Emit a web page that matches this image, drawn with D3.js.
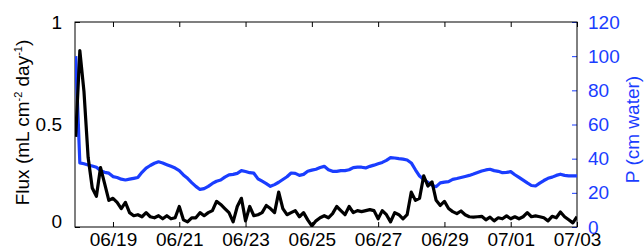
<!DOCTYPE html>
<html>
<head>
<meta charset="utf-8">
<title>Flux and P</title>
<script src="https://cdn.jsdelivr.net/npm/d3@7"></script>
<style>
  body { margin: 0; background: #fff; }
  text { font-family: "Liberation Sans", Arial, sans-serif; }
</style>
</head>
<body>
<div id="chart"></div>
<script>
  // samples every 3 hours from the first reading
  const startTime = "2013-06-17T21:00";
  const stepHours = 3;
  const domainStart = "2013-06-17T20:30";
  const domainEnd = "2013-07-03T00:00";

  const flux = [0.44, 0.86, 0.66, 0.34, 0.19, 0.15, 0.29, 0.21, 0.13, 0.14,
    0.12, 0.09, 0.12, 0.07, 0.055, 0.06, 0.05, 0.07, 0.05, 0.045,
    0.055, 0.04, 0.055, 0.04, 0.045, 0.10, 0.035, 0.025, 0.045, 0.045,
    0.07, 0.055, 0.07, 0.08, 0.125, 0.11, 0.09, 0.07, 0.025, 0.10,
    0.14, 0.03, 0.10, 0.055, 0.06, 0.07, 0.105, 0.09, 0.07, 0.17,
    0.09, 0.06, 0.07, 0.08, 0.05, 0.07, 0.035, 0.005, 0.03, 0.045,
    0.055, 0.045, 0.065, 0.10, 0.08, 0.06, 0.10, 0.07, 0.08, 0.075,
    0.08, 0.085, 0.08, 0.04, 0.08, 0.06, 0.025, 0.07, 0.06, 0.04,
    0.06, 0.17, 0.13, 0.14, 0.25, 0.20, 0.22, 0.13, 0.105, 0.125,
    0.09, 0.075, 0.065, 0.078, 0.06, 0.05, 0.048, 0.05, 0.052, 0.035,
    0.048, 0.03, 0.045, 0.04, 0.054, 0.04, 0.05, 0.04, 0.05, 0.07,
    0.05, 0.054, 0.05, 0.045, 0.03, 0.052, 0.045, 0.073, 0.05, 0.035,
    0.02, 0.05];

  const pressure = [100, 37.5, 37, 36.3, 35.7, 35, 33, 32, 31.5, 29.5,
    29, 28, 27.5, 28, 28.5, 29, 32, 34.5, 36, 37.3,
    38.2, 37.5, 36.5, 35.5, 34.5, 33, 30.5, 28.5, 26, 23.8,
    22, 22.5, 23.8, 25.5, 26.8, 27.5, 29.2, 30.5, 30.8, 31.4,
    33, 32.5, 31.8, 31.5, 28.2, 26.8, 25.4, 23.8, 24.8, 26.2,
    27.8, 29.4, 31.6, 31.4, 30.2, 30.8, 32.6, 33.3, 33.8, 34.8,
    35.5, 33.5, 32.6, 32.6, 33, 33, 33.5, 34.8, 35, 35,
    34.6, 35.5, 36.2, 37, 37.8, 39, 40.6, 40.4, 40, 39.7,
    39.2, 37.5, 33.5, 29.8, 27.8, 26.2, 24.4, 23.6, 25.8, 26.3,
    26.6, 27.9, 28.4, 29, 29.6, 30.2, 31, 31.9, 32.8, 33.4,
    33.8, 33, 32.6, 31.8, 32, 32.4, 30.6, 29, 27.4, 25.8,
    24.3, 24, 25.7, 27.2, 28.5, 29.2, 30.2, 30.9, 30.2, 29.9,
    29.9, 29.9];

  const dateTicks = ["2013-06-19", "2013-06-21", "2013-06-23", "2013-06-25",
    "2013-06-27", "2013-06-29", "2013-07-01", "2013-07-03"];
  const fluxTicks = [0, 0.5, 1];
  const pTicks = [0, 20, 40, 60, 80, 100, 120];

  const blue = "#1a3dff";
  const width = 644, height = 252;
  const margin = { top: 22, right: 67, bottom: 25, left: 75 };
  const w = width - margin.left - margin.right;
  const h = height - margin.top - margin.bottom;

  const parse = d3.isoParse;
  const t0 = parse(startTime);
  const times = flux.map((d, i) => d3.timeHour.offset(t0, i * stepHours));

  const svg = d3.select("#chart").append("svg")
    .attr("width", width)
    .attr("height", height);

  const g = svg.append("g")
    .attr("transform", `translate(${margin.left},${margin.top})`);

  const x = d3.scaleTime()
    .domain([parse(domainStart), parse(domainEnd)])
    .range([0, w]);
  const yFlux = d3.scaleLinear().domain([0, 1]).range([h, 0]);
  const yP = d3.scaleLinear().domain([0, 120]).range([h, 0]);

  g.append("clipPath").attr("id", "clip")
    .append("rect").attr("width", w).attr("height", h);

  const fmt = d3.timeFormat("%m/%d");
  const tickDates = dateTicks.map(parse);

  // bottom axis, ticks pointing inward
  const xBottom = g.append("g")
    .attr("transform", `translate(0,${h})`)
    .call(d3.axisBottom(x).tickValues(tickDates).tickFormat(fmt).tickSizeInner(-5).tickSizeOuter(0).tickPadding(6));
  // top axis, ticks only
  const xTop = g.append("g")
    .call(d3.axisTop(x).tickValues(tickDates).tickFormat("").tickSizeInner(-5).tickSizeOuter(0));

  const yLeft = g.append("g")
    .call(d3.axisLeft(yFlux).tickValues(fluxTicks).tickFormat(d3.format("")).tickSizeInner(-5).tickSizeOuter(0).tickPadding(13));

  const yRight = g.append("g")
    .attr("transform", `translate(${w},0)`)
    .call(d3.axisRight(yP).tickValues(pTicks).tickSizeInner(-5).tickSizeOuter(0).tickPadding(11));

  [xBottom, xTop, yLeft, yRight].forEach(a => {
    a.select(".domain").remove();
    a.selectAll("text").attr("font-size", 19).attr("font-family", "Liberation Sans, Arial, sans-serif");
  });
  xBottom.selectAll("text").attr("fill", "#000");
  yLeft.selectAll("text").attr("fill", "#000");
  yLeft.selectAll(".tick").filter(d => d === 0).select("text").attr("dy", "0.0em");
  yRight.selectAll("text").attr("fill", blue);
  yRight.selectAll("line").attr("stroke", blue);

  // frame
  g.append("rect")
    .attr("width", w).attr("height", h)
    .attr("fill", "none").attr("stroke", "#000").attr("stroke-width", 1);

  const lineP = d3.line()
    .x((d, i) => x(times[i]))
    .y(d => yP(d));
  const lineFlux = d3.line()
    .x((d, i) => x(times[i]))
    .y(d => yFlux(d));

  const plot = g.append("g").attr("clip-path", "url(#clip)");
  plot.append("path")
    .datum(pressure)
    .attr("d", lineP)
    .attr("fill", "none")
    .attr("stroke", blue)
    .attr("stroke-width", 3.2)
    .attr("stroke-linejoin", "round");
  plot.append("path")
    .datum(flux)
    .attr("d", lineFlux)
    .attr("fill", "none")
    .attr("stroke", "#000")
    .attr("stroke-width", 3.2)
    .attr("stroke-linejoin", "round");

  // axis titles
  const leftTitle = svg.append("text")
    .attr("transform", `translate(29,${margin.top + h / 2 - 2}) rotate(-90)`)
    .attr("text-anchor", "middle")
    .attr("font-size", 19)
    .attr("fill", "#000");
  leftTitle.append("tspan").text("Flux (mL cm");
  leftTitle.append("tspan").attr("font-size", 11).attr("dy", -7).text("-2");
  leftTitle.append("tspan").attr("dy", 7).text(" day");
  leftTitle.append("tspan").attr("font-size", 11).attr("dy", -7).text("-1");
  leftTitle.append("tspan").attr("dy", 7).text(")");

  svg.append("text")
    .attr("transform", `translate(639,${margin.top + h / 2 + 5}) rotate(-90)`)
    .attr("text-anchor", "middle")
    .attr("font-size", 19)
    .attr("fill", blue)
    .text("P (cm water)");
</script>
</body>
</html>
